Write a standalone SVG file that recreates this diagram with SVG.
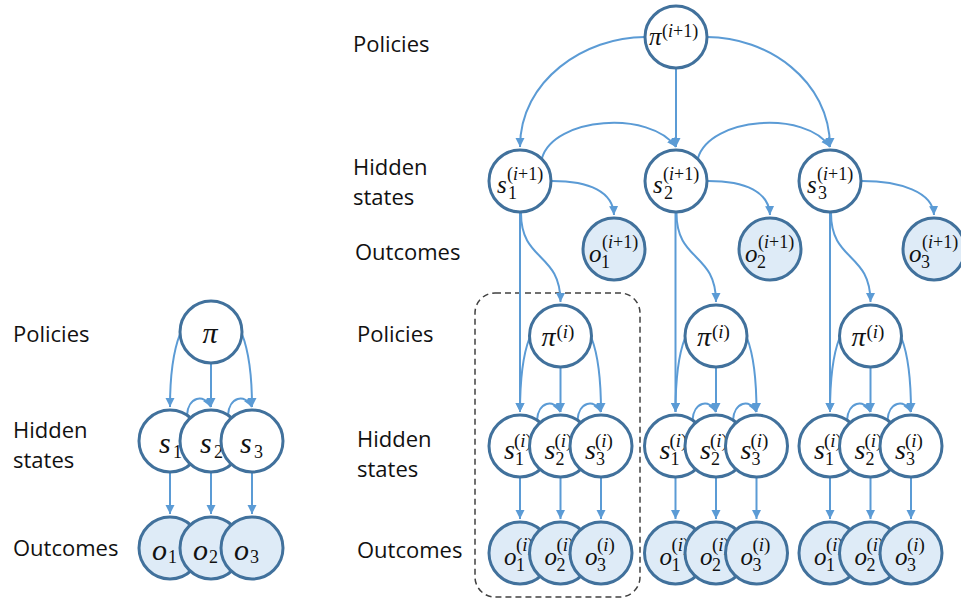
<svg xmlns="http://www.w3.org/2000/svg" width="961" height="600" viewBox="0 0 961 600">
<defs>
<marker id="ah" markerUnits="userSpaceOnUse" markerWidth="10" markerHeight="10" refX="9" refY="4.5" orient="auto">
<path d="M0,0 L9,4.5 L0,9 z" fill="#5B9BD5"/>
</marker>
<style>
.lbl{font-family:"Open Sans","Liberation Sans",sans-serif;font-size:22px;fill:#111}
.c{fill:#fff;stroke:#41719C;stroke-width:3}
.co{fill:#DEEBF7;stroke:#41719C;stroke-width:3}
.e{fill:none;stroke:#5B9BD5;stroke-width:2;marker-end:url(#ah)}
.m{font-family:"Liberation Serif",serif;font-style:italic;fill:#111}
.n{font-family:"Liberation Serif",serif;font-style:normal;fill:#111;font-size:18px}
.g{font-size:19px}
.m30{font-size:30px}.m28{font-size:28px}.m25{font-size:25px}.m24{font-size:24px}
.it{font-style:italic}
.box{fill:none;stroke:#404040;stroke-width:1.5;stroke-dasharray:6 4}
</style>
</defs>
<rect width="961" height="600" fill="#fff"/>

<g id="labels">
<text class="lbl" x="13" y="342">Policies</text>
<text class="lbl" x="13" y="438">Hidden</text>
<text class="lbl" x="13" y="468">states</text>
<text class="lbl" x="13" y="556">Outcomes</text>
<text class="lbl" x="353" y="52">Policies</text>
<text class="lbl" x="353" y="175">Hidden</text>
<text class="lbl" x="353" y="205">states</text>
<text class="lbl" x="355" y="260">Outcomes</text>
<text class="lbl" x="357" y="342">Policies</text>
<text class="lbl" x="357" y="447">Hidden</text>
<text class="lbl" x="357" y="477">states</text>
<text class="lbl" x="357" y="558">Outcomes</text>
</g>

<rect id="plate" class="box" x="475" y="293" width="165" height="304" rx="20"/>

<g id="connectors">
<path class="e" d="M645,37 C585,37 520,80 520,147"/>
<path class="e" d="M676,69 L676,147"/>
<path class="e" d="M707,37 C767,37 830,80 830,147"/>
<path class="e" d="M542,158 C554,117 650,110 676,147"/>
<path class="e" d="M698,158 C710,117 806,110 830,147"/>
<path class="e" d="M552,181 C590,181 613,192 614,215"/>
<path class="e" d="M708,181 C746,181 769,192 770,215"/>
<path class="e" d="M862,181 C900,181 933,192 934,215"/>
<path class="e" d="M520,213 L520,412"/>
<path class="e" d="M521,213 C521,262 560.5,252 560.5,302"/>
<path class="e" d="M675.5,213 L675.5,412"/>
<path class="e" d="M676.5,213 C676.5,262 716,252 716,302"/>
<path class="e" d="M830,213 L830,412"/>
<path class="e" d="M831,213 C831,262 870.5,252 870.5,302"/>

<path class="e" d="M529.5,338 C522.5,356 520,380 520,412"/>
<path class="e" d="M560.5,368 L560.5,412"/>
<path class="e" d="M591.5,338 C598.5,356 601,380 601,412"/>
<path class="e" d="M537,420 C538,402 554,398 560.5,412"/>
<path class="e" d="M577.5,420 C578.5,402 594.5,398 601,412"/>
<path class="e" d="M520,478 L520,519"/>
<path class="e" d="M560.5,478 L560.5,519"/>
<path class="e" d="M601,478 L601,519"/>

<path class="e" d="M685,338 C678,356 675.5,380 675.5,412"/>
<path class="e" d="M716,368 L716,412"/>
<path class="e" d="M747,338 C754,356 756.5,380 756.5,412"/>
<path class="e" d="M692.5,420 C693.5,402 709.5,398 716,412"/>
<path class="e" d="M733,420 C734,402 750,398 756.5,412"/>
<path class="e" d="M675.5,478 L675.5,519"/>
<path class="e" d="M716,478 L716,519"/>
<path class="e" d="M756.5,478 L756.5,519"/>

<path class="e" d="M839.5,338 C832.5,356 830,380 830,412"/>
<path class="e" d="M870.5,368 L870.5,412"/>
<path class="e" d="M901.5,338 C908.5,356 911,380 911,412"/>
<path class="e" d="M847,420 C848,402 864,398 870.5,412"/>
<path class="e" d="M887.5,420 C888.5,402 904.5,398 911,412"/>
<path class="e" d="M830,478 L830,519"/>
<path class="e" d="M870.5,478 L870.5,519"/>
<path class="e" d="M911,478 L911,519"/>

<path class="e" d="M180,334 C173,352 170,376 170,407"/>
<path class="e" d="M211,364 L211,407"/>
<path class="e" d="M242,334 C249,352 252,376 252,407"/>
<path class="e" d="M187,415 C188,397 204,393 211,407"/>
<path class="e" d="M228,415 C229,397 245,393 252,407"/>
<path class="e" d="M170,473 L170,514"/>
<path class="e" d="M211,473 L211,514"/>
<path class="e" d="M252,473 L252,514"/>
</g>

<!-- Left diagram -->
<g id="L_pi"><circle class="c" cx="211" cy="332" r="31"/><text class="m m30" x="210" y="343" text-anchor="middle">π</text></g>
<g id="L_s1"><circle class="c" cx="170" cy="441" r="31"/><text class="m m30" x="159" y="453">s</text><text class="n" font-size="19" x="173" y="458">1</text></g>
<g id="L_s2"><circle class="c" cx="211" cy="441" r="31"/><text class="m m30" x="200" y="453">s</text><text class="n" font-size="19" x="214" y="458">2</text></g>
<g id="L_s3"><circle class="c" cx="252" cy="441" r="31"/><text class="m m30" x="240" y="453">s</text><text class="n" font-size="19" x="254" y="458">3</text></g>
<g id="L_o1"><circle class="co" cx="170" cy="548" r="31"/><text class="m m30" x="152" y="560">o</text><text class="n" font-size="19" x="168" y="563">1</text></g>
<g id="L_o2"><circle class="co" cx="211" cy="548" r="31"/><text class="m m30" x="193" y="560">o</text><text class="n" font-size="19" x="209" y="563">2</text></g>
<g id="L_o3"><circle class="co" cx="252" cy="548" r="31"/><text class="m m30" x="234" y="560">o</text><text class="n" font-size="19" x="250" y="563">3</text></g>

<!-- Top layer (i+1) -->
<g id="pi_ip1"><circle class="c" cx="676" cy="37" r="31"/><text class="m m25" x="649" y="45">π</text><text class="n" x="662" y="37">(<tspan class="it">i</tspan>+1)</text></g>
<g id="s1_ip1"><circle class="c" cx="520" cy="181" r="31"/><text class="m m25" x="497" y="193">s</text><text class="n" x="508" y="199">1</text><text class="n" x="507" y="180">(<tspan class="it">i</tspan>+1)</text></g>
<g id="s2_ip1"><circle class="c" cx="676" cy="181" r="31"/><text class="m m25" x="653" y="193">s</text><text class="n" x="664" y="199">2</text><text class="n" x="663" y="180">(<tspan class="it">i</tspan>+1)</text></g>
<g id="s3_ip1"><circle class="c" cx="830" cy="181" r="31"/><text class="m m25" x="807" y="193">s</text><text class="n" x="818" y="199">3</text><text class="n" x="817" y="180">(<tspan class="it">i</tspan>+1)</text></g>
<g id="o1_ip1"><circle class="co" cx="614" cy="249" r="31"/><text class="m m25" x="589" y="262">o</text><text class="n" x="601" y="268">1</text><text class="n" x="602" y="248">(<tspan class="it">i</tspan>+1)</text></g>
<g id="o2_ip1"><circle class="co" cx="770" cy="249" r="31"/><text class="m m25" x="745" y="262">o</text><text class="n" x="757" y="268">2</text><text class="n" x="758" y="248">(<tspan class="it">i</tspan>+1)</text></g>
<g id="o3_ip1"><circle class="co" cx="934" cy="249" r="31"/><text class="m m25" x="909" y="262">o</text><text class="n" x="921" y="268">3</text><text class="n" x="922" y="248">(<tspan class="it">i</tspan>+1)</text></g>

<!-- Group 1 -->
<g id="g1_pi"><circle class="c" cx="560.5" cy="336" r="31"/><text class="m m28" x="541.5" y="346">π</text><text class="n g" x="556.5" y="338">(<tspan class="it">i</tspan>)</text></g>
<g id="g1_s1"><circle class="c" cx="520" cy="446" r="31"/><text class="m m28" x="504" y="459">s</text><text class="n" x="515" y="465">1</text><text class="n g" x="514" y="447">(<tspan class="it">i</tspan>)</text></g>
<g id="g1_s2"><circle class="c" cx="560.5" cy="446" r="31"/><text class="m m28" x="544.5" y="459">s</text><text class="n" x="555.5" y="465">2</text><text class="n g" x="554.5" y="447">(<tspan class="it">i</tspan>)</text></g>
<g id="g1_s3"><circle class="c" cx="601" cy="446" r="31"/><text class="m m28" x="585" y="459">s</text><text class="n" x="596" y="465">3</text><text class="n g" x="595" y="447">(<tspan class="it">i</tspan>)</text></g>
<g id="g1_o1"><circle class="co" cx="520" cy="553" r="31"/><text class="m m25" x="504" y="565">o</text><text class="n" x="516" y="571">1</text><text class="n g" x="516" y="551">(<tspan class="it">i</tspan>)</text></g>
<g id="g1_o2"><circle class="co" cx="560.5" cy="553" r="31"/><text class="m m25" x="544.5" y="565">o</text><text class="n" x="556.5" y="571">2</text><text class="n g" x="556.5" y="551">(<tspan class="it">i</tspan>)</text></g>
<g id="g1_o3"><circle class="co" cx="601" cy="553" r="31"/><text class="m m25" x="585" y="565">o</text><text class="n" x="597" y="571">3</text><text class="n g" x="597" y="551">(<tspan class="it">i</tspan>)</text></g>

<!-- Group 2 -->
<g id="g2_pi"><circle class="c" cx="716" cy="336" r="31"/><text class="m m28" x="697" y="346">π</text><text class="n g" x="712" y="338">(<tspan class="it">i</tspan>)</text></g>
<g id="g2_s1"><circle class="c" cx="675.5" cy="446" r="31"/><text class="m m28" x="659.5" y="459">s</text><text class="n" x="670.5" y="465">1</text><text class="n g" x="669.5" y="447">(<tspan class="it">i</tspan>)</text></g>
<g id="g2_s2"><circle class="c" cx="716" cy="446" r="31"/><text class="m m28" x="700" y="459">s</text><text class="n" x="711" y="465">2</text><text class="n g" x="710" y="447">(<tspan class="it">i</tspan>)</text></g>
<g id="g2_s3"><circle class="c" cx="756.5" cy="446" r="31"/><text class="m m28" x="740.5" y="459">s</text><text class="n" x="751.5" y="465">3</text><text class="n g" x="750.5" y="447">(<tspan class="it">i</tspan>)</text></g>
<g id="g2_o1"><circle class="co" cx="675.5" cy="553" r="31"/><text class="m m25" x="659.5" y="565">o</text><text class="n" x="671.5" y="571">1</text><text class="n g" x="671.5" y="551">(<tspan class="it">i</tspan>)</text></g>
<g id="g2_o2"><circle class="co" cx="716" cy="553" r="31"/><text class="m m25" x="700" y="565">o</text><text class="n" x="712" y="571">2</text><text class="n g" x="712" y="551">(<tspan class="it">i</tspan>)</text></g>
<g id="g2_o3"><circle class="co" cx="756.5" cy="553" r="31"/><text class="m m25" x="740.5" y="565">o</text><text class="n" x="752.5" y="571">3</text><text class="n g" x="752.5" y="551">(<tspan class="it">i</tspan>)</text></g>

<!-- Group 3 -->
<g id="g3_pi"><circle class="c" cx="870.5" cy="336" r="31"/><text class="m m28" x="851.5" y="346">π</text><text class="n g" x="866.5" y="338">(<tspan class="it">i</tspan>)</text></g>
<g id="g3_s1"><circle class="c" cx="830" cy="446" r="31"/><text class="m m28" x="814" y="459">s</text><text class="n" x="825" y="465">1</text><text class="n g" x="824" y="447">(<tspan class="it">i</tspan>)</text></g>
<g id="g3_s2"><circle class="c" cx="870.5" cy="446" r="31"/><text class="m m28" x="854.5" y="459">s</text><text class="n" x="865.5" y="465">2</text><text class="n g" x="864.5" y="447">(<tspan class="it">i</tspan>)</text></g>
<g id="g3_s3"><circle class="c" cx="911" cy="446" r="31"/><text class="m m28" x="895" y="459">s</text><text class="n" x="906" y="465">3</text><text class="n g" x="905" y="447">(<tspan class="it">i</tspan>)</text></g>
<g id="g3_o1"><circle class="co" cx="830" cy="553" r="31"/><text class="m m25" x="814" y="565">o</text><text class="n" x="826" y="571">1</text><text class="n g" x="826" y="551">(<tspan class="it">i</tspan>)</text></g>
<g id="g3_o2"><circle class="co" cx="870.5" cy="553" r="31"/><text class="m m25" x="854.5" y="565">o</text><text class="n" x="866.5" y="571">2</text><text class="n g" x="866.5" y="551">(<tspan class="it">i</tspan>)</text></g>
<g id="g3_o3"><circle class="co" cx="911" cy="553" r="31"/><text class="m m25" x="895" y="565">o</text><text class="n" x="907" y="571">3</text><text class="n g" x="907" y="551">(<tspan class="it">i</tspan>)</text></g>
</svg>
